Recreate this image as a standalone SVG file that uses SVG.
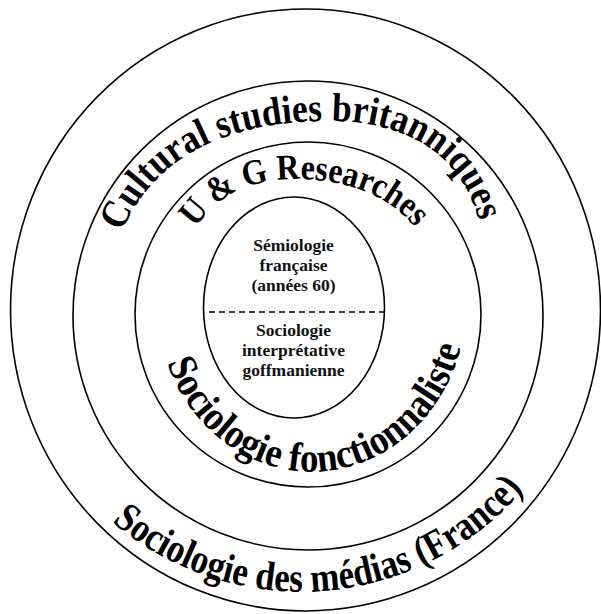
<svg xmlns="http://www.w3.org/2000/svg" width="601" height="614" viewBox="0 0 601 614">
<style>
.ring{fill:none;stroke:#000;stroke-width:1.6}
.arc{font-family:"Liberation Serif","Times New Roman",serif;font-weight:bold;fill:#000}
.c{font-family:"Liberation Serif","Times New Roman",serif;font-weight:bold;font-size:17.5px;text-anchor:middle;fill:#111}
.dash{stroke:#000;stroke-width:1.6;stroke-dasharray:6 4;fill:none}
</style>
<defs>
<path id="p1" d="M122,232 C152,160 222,121 330,121 C400,121 463,150 480,226"/>
<path id="p2" d="M195,228 C215,200 242,180 295,179 C345,179 390,195 417,230"/>
<path id="p3" d="M167,363 A155,170 0 0 0 463,338"/>
<path id="p4" d="M112,522 A292,292 0 0 0 527,485"/>
</defs>
<rect width="601" height="614" fill="#fff"/>
<g id="ring-medias">
<ellipse class="ring" cx="305.5" cy="310" rx="295" ry="301"/>
<text class="arc" font-size="41"><textPath href="#p4" textLength="458" lengthAdjust="spacingAndGlyphs">Sociologie des médias (France)</textPath></text>
</g>
<g id="ring-cultural">
<ellipse class="ring" cx="308" cy="315.5" rx="235" ry="234.5"/>
<text class="arc" font-size="40"><textPath href="#p1" textLength="446" lengthAdjust="spacingAndGlyphs">Cultural studies britanniques</textPath></text>
</g>
<g id="ring-ug">
<ellipse class="ring" cx="308" cy="314.5" rx="173" ry="172.5"/>
<text class="arc" font-size="36"><textPath href="#p2" textLength="250" lengthAdjust="spacingAndGlyphs">U &amp; G Researches</textPath></text>
<text class="arc" font-size="41"><textPath href="#p3" textLength="402" lengthAdjust="spacingAndGlyphs">Sociologie fonctionnaliste</textPath></text>
</g>
<g id="center">
<ellipse class="ring" cx="294" cy="307.5" rx="90.5" ry="110.5"/>
<line class="dash" x1="209" y1="312" x2="385" y2="312"/>
<text class="c" x="293.5" y="251">Sémiologie</text>
<text class="c" x="293.5" y="271">française</text>
<text class="c" x="293.5" y="291">(années 60)</text>
<text class="c" x="293.5" y="336">Sociologie</text>
<text class="c" x="293.5" y="356">interprétative</text>
<text class="c" x="293.5" y="376">goffmanienne</text>
</g>
</svg>
